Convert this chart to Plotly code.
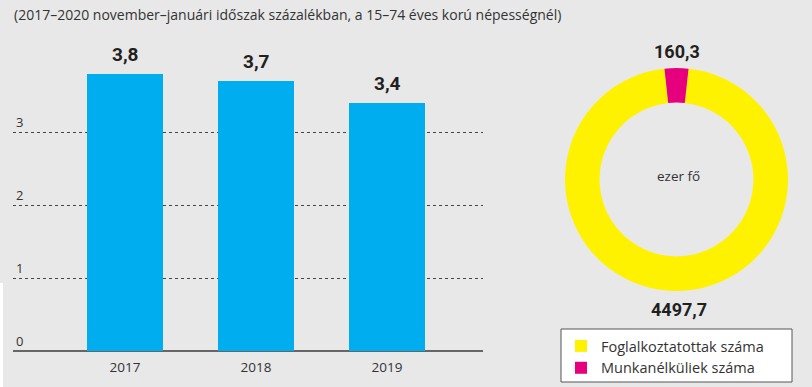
import plotly.graph_objects as go

# ---- data ----
years = ["2017", "2018", "2019"]
rates = [3.8, 3.7, 3.4]
y_ticks = [0, 1, 2, 3]

pie_labels = ["Foglalkoztatottak száma", "Munkanélküliek száma"]
pie_values = [4497.7, 160.3]
pie_colors = ["#fff200", "#e6007e"]

title_text = "(2017–2020 november–januári időszak százalékban, a 15–74 éves korú népességnél)"
center_text = "ezer fő"

W, H = 812, 387
BG = "#e8e8e9"
FONT = "Roboto"
TXT = "Open Sans"


def px(x):
    return x / W


def py(y):
    return 1 - y / H


def fmt(v):
    return f"{v:.1f}".replace(".", ",")


fig = go.Figure()

fig.add_trace(go.Bar(
    x=years, y=rates, marker=dict(color="#00adef", line=dict(width=0)),
    width=0.58, showlegend=False, hoverinfo="skip",
))

total = sum(pie_values)
rot = 180 * pie_values[1] / total
fig.add_trace(go.Pie(
    labels=pie_labels, values=pie_values, marker=dict(colors=pie_colors, line=dict(width=0)),
    hole=0.69, sort=False, direction="clockwise", rotation=rot,
    textinfo="none", hoverinfo="skip",
    domain=dict(x=[px(565), px(788)], y=[py(291), py(68)]),
))

annotations = []
for i, v in enumerate(rates):
    annotations.append(dict(
        x=i, y=v, xref="x", yref="y", text=f"<b>{fmt(v)}</b>", showarrow=False,
        yanchor="middle", yshift=19, font=dict(family=FONT, size=19, color="#231f20"),
    ))

annotations.append(dict(
    x=px(12), y=py(15), xref="paper", yref="paper", text=title_text, showarrow=False,
    xanchor="left", yanchor="middle", font=dict(family=TXT, size=14, color="#333333"),
))
annotations.append(dict(
    x=px(677), y=py(52), xref="paper", yref="paper", text=f"<b>{fmt(pie_values[1])}</b>",
    showarrow=False, xanchor="center", yanchor="middle",
    font=dict(family=FONT, size=18, color="#231f20"),
))
annotations.append(dict(
    x=px(679), y=py(309), xref="paper", yref="paper", text=f"<b>{fmt(pie_values[0])}</b>",
    showarrow=False, xanchor="center", yanchor="middle",
    font=dict(family=FONT, size=18, color="#231f20"),
))
annotations.append(dict(
    x=px(678), y=py(176), xref="paper", yref="paper", text=center_text,
    showarrow=False, xanchor="center", yanchor="middle",
    font=dict(family=TXT, size=13.5, color="#333333"),
))

shapes = [
    # legend box
    dict(type="rect", xref="paper", yref="paper", x0=px(561), x1=px(792), y0=py(382), y1=py(329),
         fillcolor="white", line=dict(color="#555555", width=1), layer="below"),
    # white strip at left edge
    dict(type="rect", xref="paper", yref="paper", x0=0, x1=px(3), y0=0, y1=py(283),
         fillcolor="white", line=dict(width=0), layer="below"),
]

unit = 131.0
x0_px, x1_px, c0_px = 13, 483, 125
fig.update_layout(
    width=W, height=H, autosize=False,
    margin=dict(l=0, r=0, t=0, b=0),
    paper_bgcolor=BG, plot_bgcolor="rgba(0,0,0,0)",
    font=dict(family=TXT, color="#333333"),
    annotations=annotations, shapes=shapes,
    bargap=0,
    xaxis=dict(
        domain=[px(x0_px), px(x1_px)], type="category",
        range=[-(c0_px - x0_px) / unit, (x1_px - c0_px) / unit],
        showgrid=False, showline=False, zeroline=False, ticks="",
        ticklabelstandoff=6,
        tickfont=dict(family=TXT, size=13.5, color="#333333"), fixedrange=True,
    ),
    yaxis=dict(
        domain=[py(351), py(50)], range=[0, (351 - 50) / 73.0],
        tickvals=y_ticks, ticktext=[str(t) for t in y_ticks],
        ticklabelposition="inside top", ticks="",
        showgrid=True, gridcolor="#444444", griddash="dot", gridwidth=1,
        zeroline=True, zerolinecolor="#666666", zerolinewidth=1.5,
        showline=False, tickfont=dict(family=TXT, size=13, color="#333333"), fixedrange=True,
    ),
    legend=dict(
        x=px(561), y=py(330), xanchor="left", yanchor="top",
        bgcolor="rgba(0,0,0,0)", borderwidth=0,
        font=dict(family=TXT, size=14.5, color="#333333"),
        itemclick=False, itemdoubleclick=False, traceorder="normal",
    ),
)

fig.write_html(
    "out.html", config={"displayModeBar": False},
    post_script="document.body.style.margin='0';document.body.style.padding='0';",
)
